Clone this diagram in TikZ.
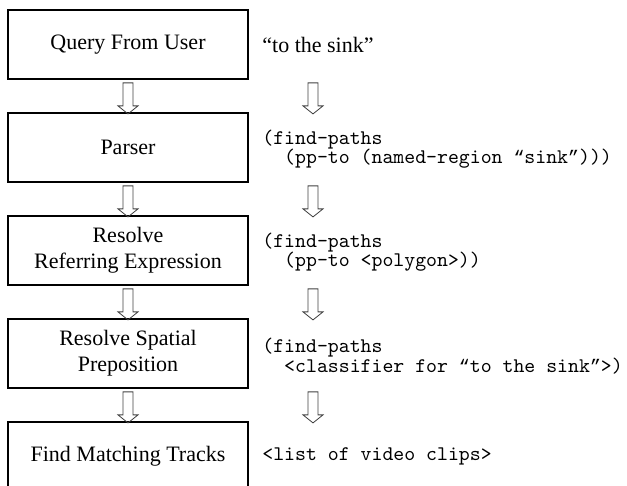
\documentclass[tikz,border=0pt]{standalone}
\usepackage{fontspec}
\setmainfont{Liberation Serif}
\newfontfamily\qfont{Liberation Mono}
\newcommand\myoq{{\qfont\fontsize{9.1}{9.8}\selectfont “}}
\newcommand\mycq{{\qfont\fontsize{9.1}{9.8}\selectfont ”}}
\usetikzlibrary{calc}
\begin{document}
\begin{tikzpicture}[x=0.5pt,y=-0.5pt,
  box/.style={draw=black,line width=0.9pt,minimum width=120pt,minimum height=34.5pt,
    inner sep=0pt,align=center,font=\fontsize{11}{13.2}\selectfont},
  lbl/.style={anchor=west,inner sep=0pt,font=\fontsize{11}{12.6}\selectfont},
  code/.style={anchor=west,inner sep=0pt,align=left,font=\fontsize{10.4}{9.8}\selectfont\ttfamily},
  arrowline/.style={draw=black!75,line width=0.4pt,line join=miter},
  harrow/.pic={\draw[arrowline] (-5,0) -- (5,0) -- (5,23) -- (10,23) -- (0,31) -- (-10,23) -- (-5,23) -- cycle;}
]
\useasboundingbox (0,0) rectangle (627,486);
% boxes
\node[box] (b1) at (128,44.5) {Query From User};
\node[box] (b2) at (128,147.5) {Parser};
\node[box] (b3) at (128,250.5) {Resolve\\Referring Expression};
\node[box] (b4) at (128,353.5) {Resolve Spatial\\Preposition};
\node[box] (b5) at (128,456.5) {Find Matching Tracks};
% right-hand texts
\node[lbl] (t1) at (262,44.5) {“to the sink”};
\node[code] (t2) at (262,149) {(find-paths\\\phantom{xx}(pp-to (named-region \myoq sink\mycq)))};
\node[code] (t3) at (262,252) {(find-paths\\\phantom{xx}(pp-to <polygon>))};
\node[code] (t4) at (262,356) {(find-paths\\\phantom{xx}<classifier for \myoq to the sink\mycq>)};
\node[code] (t5) at (262,456) {<list of video clips>};
% block arrows between steps
\foreach \a in {b1,b2,b3,b4}{
  \pic at ($(\a.south)+(0,3)$) {harrow};
  \pic at ($(\a.south)+(185,3)$) {harrow};
}
\end{tikzpicture}
\end{document}
